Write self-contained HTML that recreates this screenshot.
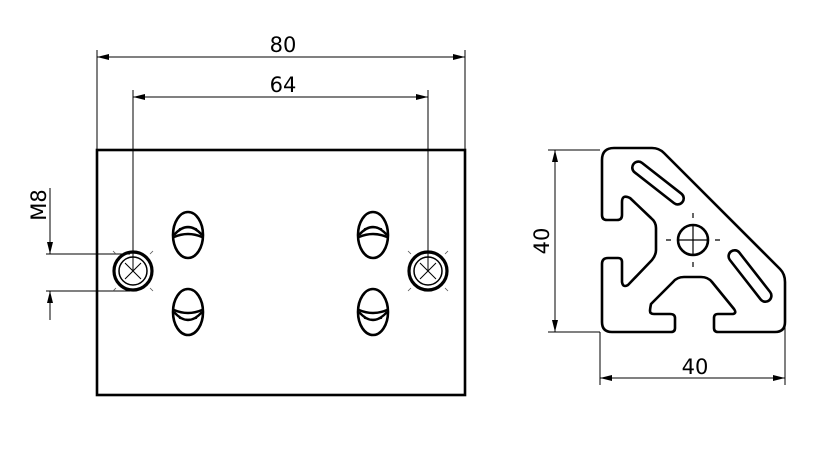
<!DOCTYPE html>
<html><head><style>body{margin:0;background:#fff}svg{display:block}text{font-family:"DejaVu Sans","Liberation Sans",sans-serif;font-size:21px;fill:#000}</style></head>
<body>
<svg width="827" height="472" viewBox="0 0 827 472" xmlns="http://www.w3.org/2000/svg">
<defs>
<marker id="a" viewBox="0 0 12 6" refX="12" refY="3" markerWidth="12" markerHeight="6" orient="auto-start-reverse" markerUnits="userSpaceOnUse"><path d="M0,0L12,3L0,6z" fill="#000"/></marker>
<g id="hole"><circle r="19" fill="none" stroke="#000" stroke-width="3.2"/><circle r="14" fill="none" stroke="#000" stroke-width="1.5"/><path d="M-8,-8L8,8M-8,8L8,-8" stroke="#000" stroke-width="1"/><path d="M-20,-20l3,3M20,-20l-3,3M-20,20l3,-3M20,20l-3,-3" stroke="#555" stroke-width="0.8"/></g>
<g id="ov"><ellipse rx="15" ry="23" fill="none" stroke="#000" stroke-width="2.6"/><path d="M-14,0Q0,-16 14,0" fill="none" stroke="#000" stroke-width="2.4"/><path d="M-14,2Q0,-4 14,2" fill="none" stroke="#000" stroke-width="2.4"/><path d="M-9,-6Q0,-9 9,-6" fill="none" stroke="#000" stroke-width="1.5"/></g>
</defs>
<g stroke="#000" stroke-width="1" fill="none">
<line x1="97" y1="50" x2="97" y2="150"/><line x1="465" y1="50" x2="465" y2="150"/>
<line x1="97" y1="57" x2="465" y2="57" marker-start="url(#a)" marker-end="url(#a)"/>
<line x1="133" y1="90" x2="133" y2="271"/><line x1="428" y1="90" x2="428" y2="271"/>
<line x1="133" y1="97" x2="428" y2="97" marker-start="url(#a)" marker-end="url(#a)"/>
<line x1="46" y1="254" x2="130" y2="254"/><line x1="46" y1="291" x2="130" y2="291"/>
<line x1="50" y1="188" x2="50" y2="254"/><line x1="50" y1="320" x2="50" y2="291"/>
<line x1="548" y1="150" x2="600" y2="150"/><line x1="548" y1="332" x2="600" y2="332"/>
<line x1="555" y1="150" x2="555" y2="332" marker-start="url(#a)" marker-end="url(#a)"/>
<line x1="600" y1="332" x2="600" y2="385"/><line x1="785" y1="320" x2="785" y2="385"/>
<line x1="600" y1="378" x2="785" y2="378" marker-start="url(#a)" marker-end="url(#a)"/>
</g>
<path d="M47,242L53,242L50,254Z M47,303L53,303L50,291Z" fill="#000"/>
<rect x="97" y="150" width="368" height="245" fill="none" stroke="#000" stroke-width="2.6"/>
<use href="#hole" x="133" y="271"/><use href="#hole" x="428" y="271"/>
<use href="#ov" x="188" y="235"/><use href="#ov" x="373" y="235"/>
<g transform="translate(373,312) scale(1,-1)"><use href="#ov"/></g>
<g transform="translate(188,312) scale(1,-1)"><use href="#ov"/></g>
<text x="283" y="52" text-anchor="middle">80</text>
<text x="283" y="92" text-anchor="middle">64</text>
<text transform="translate(46,205) rotate(-90)" text-anchor="middle">M8</text>
<text transform="translate(549,241) rotate(-90)" text-anchor="middle">40</text>
<text x="695" y="374" text-anchor="middle">40</text>
<g fill="none" stroke="#000" stroke-width="2.6" stroke-linejoin="round">
<path d="M614,148L652,148Q659,148 664,153L780,269Q785,274 785,282L785,322Q785,332 775,332L718,332Q714,332 714,328L714,318Q714,314 718,314L733,314Q737,313 734,309L712,282Q708,277 701,277L684,277Q677,277 673,282L651,304Q650,309 650,311Q650,314 654,314L670,314Q675,314 675,318L675,328Q675,332 671,332L612,332Q602,332 602,322L602,264Q602,258 608,258L618,258Q622,258 622,262L622,282Q623,288 628,285L652,260Q656,255 656,250L656,228Q656,222 651,218L630,198Q622,194 622,202L622,215Q622,220 617,220L607,220Q602,220 602,215L602,160Q602,148 614,148Z"/>
<g transform="translate(658,183) rotate(38)"><rect x="-31" y="-6" width="62" height="12" rx="6"/></g>
<g transform="translate(750,276) rotate(52)"><rect x="-31" y="-6" width="62" height="12" rx="6"/></g>
<circle cx="693" cy="240" r="15"/>
</g>
<g stroke="#000" stroke-width="1.2"><path d="M679,240h28M693,226v28"/><path d="M666,240h5M715,240h5M693,213v5M693,262v5"/></g>
</svg>
</body></html>
